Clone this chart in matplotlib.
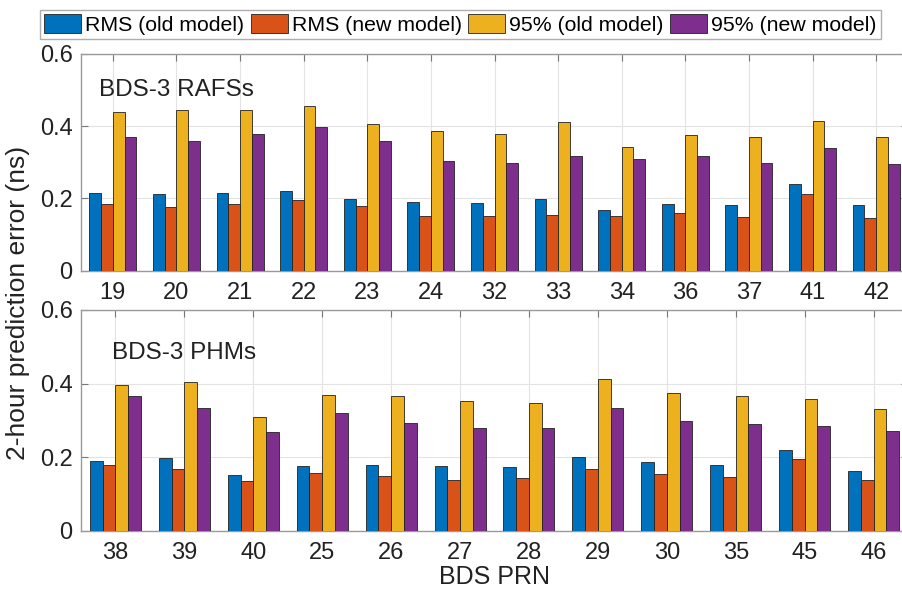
import matplotlib.pyplot as plt
import numpy as np

plt.rcParams["font.family"] = ["Liberation Sans", "DejaVu Sans"]

# upper panel: BDS-3 RAFSs
rafs_prn = ["19", "20", "21", "22", "23", "24", "32", "33", "34", "36", "37", "41", "42"]
rafs_rms_old = [0.216, 0.212, 0.216, 0.220, 0.199, 0.189, 0.186, 0.198, 0.168, 0.183, 0.182, 0.239, 0.181]
rafs_rms_new = [0.183, 0.175, 0.185, 0.195, 0.178, 0.152, 0.150, 0.155, 0.152, 0.159, 0.149, 0.213, 0.146]
rafs_p95_old = [0.439, 0.444, 0.444, 0.456, 0.406, 0.386, 0.378, 0.411, 0.342, 0.375, 0.369, 0.415, 0.369]
rafs_p95_new = [0.370, 0.359, 0.378, 0.398, 0.360, 0.304, 0.299, 0.317, 0.308, 0.318, 0.299, 0.340, 0.294]

# lower panel: BDS-3 PHMs
phm_prn = ["38", "39", "40", "25", "26", "27", "28", "29", "30", "35", "45", "46"]
phm_rms_old = [0.189, 0.198, 0.152, 0.175, 0.179, 0.175, 0.172, 0.201, 0.188, 0.179, 0.219, 0.161]
phm_rms_new = [0.179, 0.167, 0.136, 0.156, 0.148, 0.138, 0.143, 0.168, 0.155, 0.145, 0.195, 0.138]
phm_p95_old = [0.395, 0.405, 0.310, 0.368, 0.365, 0.353, 0.348, 0.412, 0.374, 0.365, 0.358, 0.330]
phm_p95_new = [0.366, 0.334, 0.268, 0.319, 0.293, 0.278, 0.280, 0.333, 0.298, 0.290, 0.284, 0.271]

series_labels = ["RMS (old model)", "RMS (new model)", "95% (old model)", "95% (new model)"]
colors = ["#0072BD", "#D95319", "#EDB120", "#7E2F8E"]

W, H = 902, 596
fig = plt.figure(figsize=(W / 100, H / 100), dpi=100)


def _axes_px(left, top, right, bottom):
    return fig.add_axes([left / W, 1 - bottom / H, (right - left) / W, (bottom - top) / H])


def _grouped_bars(ax, prns, values, title, tx, ty):
    x = np.arange(len(prns))
    width = 0.185
    offsets = (np.arange(4) - 1.5) * width
    handles = []
    for vals, off, col, lab in zip(values, offsets, colors, series_labels):
        h = ax.bar(x + off, vals, width, color=col, edgecolor="#222222",
                   linewidth=0.6, label=lab, zorder=3)
        handles.append(h)
    ax.set_xlim(-0.5, len(prns) - 0.5)
    ax.set_ylim(0, 0.6)
    ax.set_xticks(x)
    ax.set_xticklabels(prns)
    ax.set_yticks([0, 0.2, 0.4, 0.6])
    ax.set_yticklabels(["0", "0.2", "0.4", "0.6"])
    ax.grid(True, color="#e3e3e3", linewidth=0.8, zorder=0)
    ax.tick_params(direction="in", length=5, width=0.8, colors="#777777",
                   labelcolor="#222222", labelsize=17, top=True, right=True)
    ax.tick_params(axis="x", pad=8)
    ax.tick_params(axis="y", pad=6)
    for sp in ax.spines.values():
        sp.set_color("#9a9a9a")
        sp.set_linewidth(1.0)
    ax.text(tx, ty, title, transform=ax.transAxes, fontsize=17.5,
            va="center", ha="left", color="#222222")
    return handles


ax_top = _axes_px(81, 54, 908, 270.5)
handles = _grouped_bars(ax_top, rafs_prn,
                        [rafs_rms_old, rafs_rms_new, rafs_p95_old, rafs_p95_new],
                        "BDS-3 RAFSs", 0.022, 0.835)

ax_bot = _axes_px(81, 310, 908, 530.7)
_grouped_bars(ax_bot, phm_prn,
              [phm_rms_old, phm_rms_new, phm_p95_old, phm_p95_new],
              "BDS-3 PHMs", 0.038, 0.805)
ax_bot.set_xlabel("BDS PRN", fontsize=18, color="#222222", labelpad=1)

fig.text(18 / W, 1 - 303 / H, "2-hour prediction error (ns)", rotation=90,
         fontsize=19, ha="center", va="center", color="#222222")

leg = fig.legend(handles=handles, labels=series_labels, loc="upper left",
                 bbox_to_anchor=(40 / W, 1 - 10 / H), ncol=4, fontsize=15.3,
                 frameon=True, fancybox=False, edgecolor="#9a9a9a",
                 handlelength=1.75, handleheight=1.0, handletextpad=0.18,
                 columnspacing=0.3, borderpad=0.2, borderaxespad=0)
leg.get_frame().set_linewidth(1.0)

fig.savefig("out.png", dpi=100)
